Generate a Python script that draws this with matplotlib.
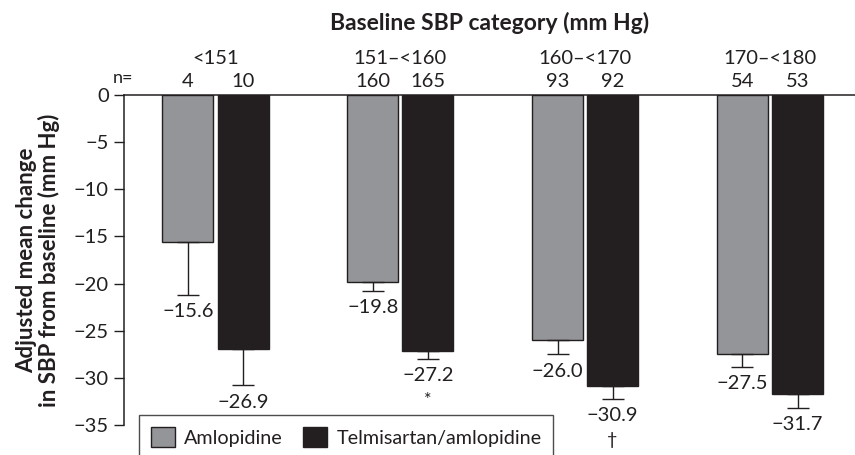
import numpy as np
import matplotlib.pyplot as plt
from matplotlib.patches import Patch

categories = ["<151", "151\u2013<160", "160\u2013<170", "170\u2013<180"]
n_amlo = [4, 160, 93, 54]
n_telmi = [10, 165, 92, 53]
amlo = np.array([-15.6, -19.8, -26.0, -27.5])
telmi = np.array([-26.9, -27.2, -30.9, -31.7])
amlo_err = np.array([5.6, 1.0, 1.5, 1.3])
telmi_err = np.array([3.9, 0.8, 1.3, 1.5])
telmi_marks = ["", "*", "\u2020", ""]

gray = "#939598"
dark = "#231f20"

plt.rcParams['font.family'] = ['Lato', 'DejaVu Sans']
plt.rcParams['axes.unicode_minus'] = True

fig = plt.figure(figsize=(8.55, 4.55), dpi=100)
ax = fig.add_axes([0.145, 0.066, 0.855, 0.725])

x = np.arange(len(categories))
w = 0.276
off = 0.149
fs = 14.5

ax.bar(x - off, amlo, w, color=gray, edgecolor=dark, linewidth=1.0)
ax.bar(x + off, telmi, w, color=dark, edgecolor=dark, linewidth=1.0)

# one-sided (downward) error bars
ax.errorbar(x - off, amlo, yerr=[amlo_err, np.zeros(4)], fmt='none',
            ecolor=dark, elinewidth=1.0, capsize=8, capthick=1.0)
ax.errorbar(x + off, telmi, yerr=[telmi_err, np.zeros(4)], fmt='none',
            ecolor=dark, elinewidth=1.0, capsize=8, capthick=1.0)

for i in range(len(x)):
    ax.annotate(f"\u2212{abs(amlo[i]):.1f}", (x[i] - off, amlo[i] - amlo_err[i]),
                xytext=(0, -6), textcoords='offset points', ha='center', va='top',
                fontsize=fs, color=dark)
    ax.annotate(f"\u2212{abs(telmi[i]):.1f}", (x[i] + off, telmi[i] - telmi_err[i]),
                xytext=(0, -6), textcoords='offset points', ha='center', va='top',
                fontsize=fs, color=dark)
    if telmi_marks[i]:
        ax.annotate(telmi_marks[i], (x[i] + off, telmi[i] - telmi_err[i]),
                    xytext=(0, -24), textcoords='offset points', ha='center', va='top',
                    fontsize=13, color=dark)
    # category and n labels above the plot
    ax.annotate(categories[i], (x[i], 0), xytext=(0, 26), textcoords='offset points',
                ha='center', va='center', fontsize=fs, color=dark)
    ax.annotate(str(n_amlo[i]), (x[i] - off, 0), xytext=(0, 10), textcoords='offset points',
                ha='center', va='center', fontsize=fs, color=dark)
    ax.annotate(str(n_telmi[i]), (x[i] + off, 0), xytext=(0, 10), textcoords='offset points',
                ha='center', va='center', fontsize=fs, color=dark)

ax.annotate("n=", (-0.495, 0), xytext=(-1, 12), textcoords='offset points',
            ha='center', va='center', fontsize=13, color=dark)

ax.annotate("Baseline SBP category (mm Hg)", (0.5, 1), xycoords='axes fraction',
            xytext=(0, 52), textcoords='offset points', ha='center', va='center',
            fontsize=16.5, fontweight='bold', color=dark)

ax.set_xlim(-0.495, 3.46)
ax.set_ylim(-35, 0)
ax.set_yticks(np.arange(-35, 1, 5))
ax.set_yticklabels([f"\u2212{abs(v)}" if v < 0 else "0" for v in range(-35, 1, 5)])
ax.set_xticks([])
ax.tick_params(axis='y', length=7, width=1.0, color=dark, labelsize=fs, labelcolor=dark, pad=4)

ax.spines['right'].set_visible(False)
ax.spines['bottom'].set_visible(False)
ax.spines['top'].set_color(dark)
ax.spines['left'].set_color(dark)
ax.spines['top'].set_linewidth(1.1)
ax.spines['left'].set_linewidth(1.1)

ax.set_ylabel("Adjusted mean change\nin SBP from baseline (mm Hg)", fontsize=16,
              fontweight='bold', color=dark, labelpad=10, linespacing=1.05)

handles = [Patch(facecolor=gray, edgecolor=dark, label="Amlopidine"),
           Patch(facecolor=dark, edgecolor=dark, label="Telmisartan/amlopidine")]
leg = fig.legend(handles=handles, loc='upper left', bbox_to_anchor=(139 / 855, 1 - 415 / 455),
                 ncol=2, fontsize=14.2, frameon=True, fancybox=False, borderpad=0.6,
                 handlelength=1.2, handleheight=1.2, columnspacing=1.0, handletextpad=0.5,
                 borderaxespad=0)
leg.get_frame().set_edgecolor(dark)
leg.get_frame().set_linewidth(1.0)
for t in leg.get_texts():
    t.set_color(dark)

plt.savefig("out.png", dpi=100)
